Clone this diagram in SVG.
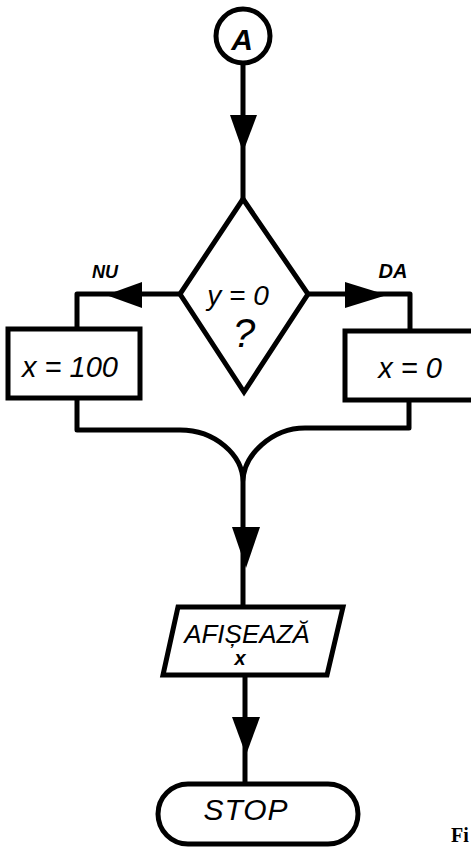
<svg xmlns="http://www.w3.org/2000/svg" width="471" height="851" viewBox="0 0 471 851">
<style>
.s{fill:none;stroke:#000;stroke-width:5;stroke-linejoin:round}
.b{fill:#fff;stroke:#000;stroke-width:5;stroke-linejoin:miter}
.t{font-family:"Liberation Sans",Arial,sans-serif;font-style:italic;fill:#000;text-anchor:middle}
.h{fill:#000}
</style>
<rect width="471" height="851" fill="#fff"/>
<g id="connectors">
<path class="s" d="M243 63 V200"/>
<polygon class="h" points="230,115 257,115 243,152"/>
<path class="s" d="M180 294 H77 V329"/>
<polygon class="h" points="142,282 142,308 106,295"/>
<path class="s" d="M308 294 H410 V331"/>
<polygon class="h" points="345,282 345,308 387,295"/>
<path class="s" d="M77 398 V430 H180 C215 430 243 455 243 482 M409 400 V428 H305 C272 428 243 455 243 482 V607"/>
<polygon class="h" points="232,527 260,527 246,568"/>
<path class="s" d="M245 675 V784"/>
<polygon class="h" points="232,717 260,717 246,755"/>
</g>
<g id="startA">
<circle class="b" cx="243" cy="36" r="27"/>
<text class="t" x="242" y="50" font-size="30" font-weight="bold">A</text>
</g>
<g id="decision">
<polygon class="b" points="243,199 308,294 244,392 180,294"/>
<text class="t" x="238" y="305" font-size="28">y = 0</text>
<text class="t" x="244" y="347" font-size="40">?</text>
</g>
<text class="t" x="105" y="278" font-size="18" font-weight="bold">NU</text>
<text class="t" x="393" y="278" font-size="20" font-weight="bold">DA</text>
<g id="boxNU">
<rect class="b" x="8" y="329" width="132" height="69"/>
<text class="t" x="70" y="377" font-size="29">x = 100</text>
</g>
<g id="boxDA">
<rect class="b" x="345" y="331" width="130" height="69"/>
<text class="t" x="410" y="378" font-size="29">x = 0</text>
</g>
<g id="display">
<polygon class="b" points="178,607 343,607 327,675 163,675"/>
<text class="t" x="247" y="643" font-size="26">AFIȘEAZĂ</text>
<text class="t" x="240" y="665" font-size="20" font-weight="bold">x</text>
</g>
<g id="stop">
<rect class="b" x="158" y="784" width="200" height="60" rx="30"/>
<text class="t" x="246" y="820" font-size="30" letter-spacing="1">STOP</text>
</g>
<text x="451" y="842" font-family="'Liberation Serif',serif" font-weight="bold" font-size="20">Fi</text>
</svg>
